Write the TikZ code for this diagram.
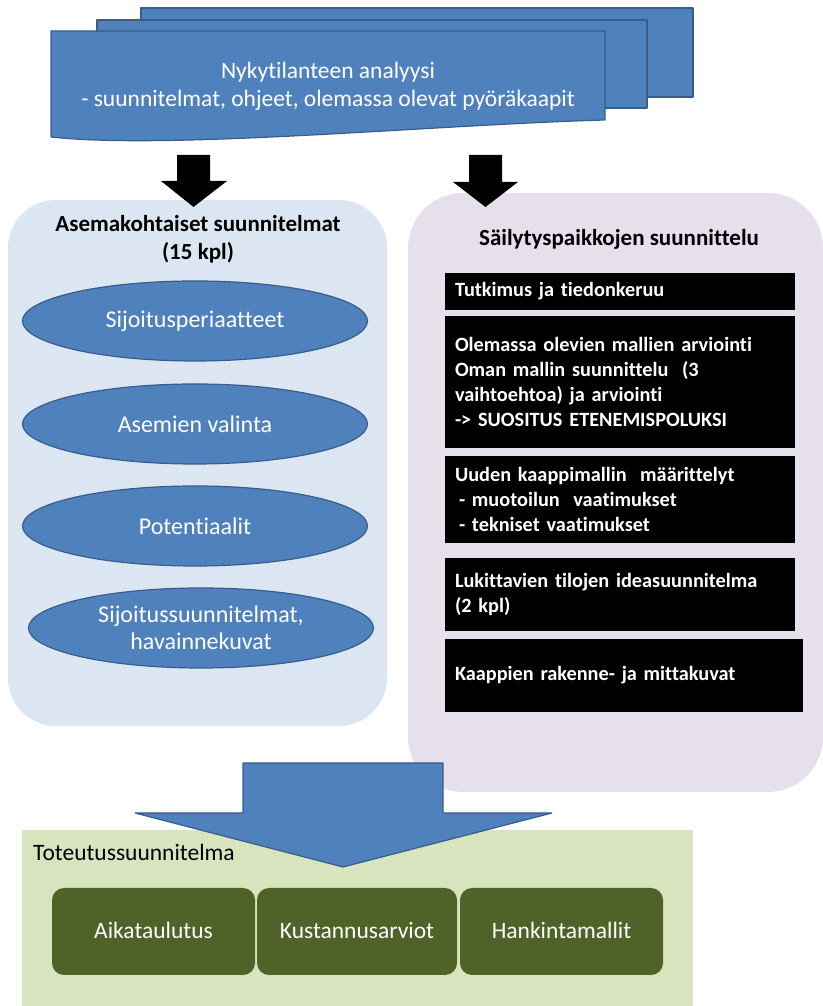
\documentclass[tikz,border=0pt]{standalone}
\usepackage{fontspec}
\setmainfont{Carlito}[Ligatures={TeX,NoCommon}]
\usetikzlibrary{shapes.geometric}
\definecolor{docblue}{HTML}{4F81BD}
\definecolor{docedge}{HTML}{385D8A}
\definecolor{asemabg}{HTML}{DCE6F2}
\definecolor{sailbg}{HTML}{E5E0EC}
\definecolor{toteutbg}{HTML}{D7E4BD}
\definecolor{toteutbox}{HTML}{4F6228}
\begin{document}
\begin{tikzpicture}[>=latex,line join=bevel,
  sheet/.style={fill=docblue,draw=docedge,line width=1.2bp},
  oval/.style={ellipse,fill=docblue,draw=docedge,line width=1.2bp,text=white,minimum width=345bp,minimum height=80bp,inner sep=0pt,align=center,font=\fontsize{24bp}{27bp}\selectfont},
  blackbox/.style={fill=black,text=white,text width=330bp,inner xsep=10bp,inner ysep=2bp,align=left,font=\bfseries\fontsize{20.3bp}{25bp}\selectfont},
  greenbox/.style={fill=toteutbox,rounded corners=12bp,text=white,minimum height=87bp,text height=15bp,text depth=0bp,font=\fontsize{23.5bp}{26bp}\selectfont},
  title/.style={align=center,font=\bfseries\fontsize{23bp}{28bp}\selectfont},
  ]
%%
\useasboundingbox (0bp,0bp) rectangle (823bp,1006bp);
%% panels
\fill [asemabg,rounded corners=48bp] (8bp,280bp) rectangle (387bp,806bp);
\fill [sailbg,rounded corners=55bp] (408bp,214bp) rectangle (823bp,813bp);
\node (node_asema) at (198bp,767bp) [title] {Asemakohtaiset suunnitelmat\\(15 kpl)};
\node (node_sail) at (619bp,767bp) [title] {Säilytyspaikkojen suunnittelu};
%% left column
\node (node_0) at (195bp,685bp) [oval] {Sijoitusperiaatteet};
\node (node_1) at (195bp,582bp) [oval] {Asemien valinta};
\node (node_2) at (195bp,480bp) [oval] {Potentiaalit};
\node (node_3) at (201bp,378bp) [oval] {Sijoitussuunnitelmat,\\havainnekuvat};
%% right column
\node (node_4) at (620bp,714.5bp) [blackbox,minimum height=37bp] {Tutkimus ja tiedonkeruu};
\node (node_5) at (620bp,624bp) [blackbox,minimum height=132bp] {Olemassa olevien mallien arviointi\\Oman mallin suunnittelu~~(3\\vaihtoehtoa) ja arviointi\\-> SUOSITUS ETENEMISPOLUKSI};
\node (node_6) at (620bp,506.5bp) [blackbox,minimum height=87bp] {Uuden kaappimallin~~määrittelyt\\\hspace*{4bp}- muotoilun~~vaatimukset\\\hspace*{4bp}- tekniset vaatimukset};
\node (node_7) at (620bp,411.5bp) [blackbox,minimum height=73bp] {Lukittavien tilojen ideasuunnitelma\\(2 kpl)};
\node (node_8) at (624bp,330.5bp) [blackbox,minimum height=73bp,text width=338bp] {Kaappien rakenne- ja mittakuvat};
%% top document stack
\draw [sheet] (141bp,909bp) rectangle (693bp,998bp);
\draw [sheet] (97bp,898bp) rectangle (647bp,986bp);
\draw [sheet] (51bp,975bp) -- (605bp,975bp) -- (605bp,886bp) ..controls (430bp,881bp) and (170bp,856bp) .. (51bp,869bp) -- cycle;
\node (node_doc) at (328bp,920bp) [align=center,text=white,font=\fontsize{23.5bp}{28bp}\selectfont] {Nykytilanteen analyysi\\- suunnitelmat, ohjeet, olemassa olevat pyöräkaapit};
%% black arrows
\fill [black] (177bp,851bp) -- (210bp,851bp) -- (210bp,825bp) -- (227bp,825bp) -- (193.5bp,799bp) -- (161bp,825bp) -- (177bp,825bp) -- cycle;
\fill [black] (469bp,851bp) -- (502bp,851bp) -- (502bp,824bp) -- (518bp,824bp) -- (485.5bp,799bp) -- (453bp,824bp) -- (469bp,824bp) -- cycle;
%% bottom
\fill [toteutbg] (22bp,0bp) rectangle (693bp,176bp);
\node (node_tot) at (33bp,154bp) [anchor=west,inner sep=0pt,font=\fontsize{23.5bp}{26bp}\selectfont] {Toteutussuunnitelma};
\node (node_9) at (153.5bp,74.5bp) [greenbox,minimum width=203bp] {Aikataulutus};
\node (node_10) at (357bp,74.5bp) [greenbox,minimum width=200bp] {Kustannusarviot};
\node (node_11) at (561.5bp,74.5bp) [greenbox,minimum width=203bp] {Hankintamallit};
\draw [sheet] (243bp,243bp) -- (443bp,243bp) -- (443bp,193bp) -- (552bp,193bp) -- (343bp,139bp) -- (135bp,193bp) -- (243bp,193bp) -- cycle;
%
\end{tikzpicture}
\end{document}
